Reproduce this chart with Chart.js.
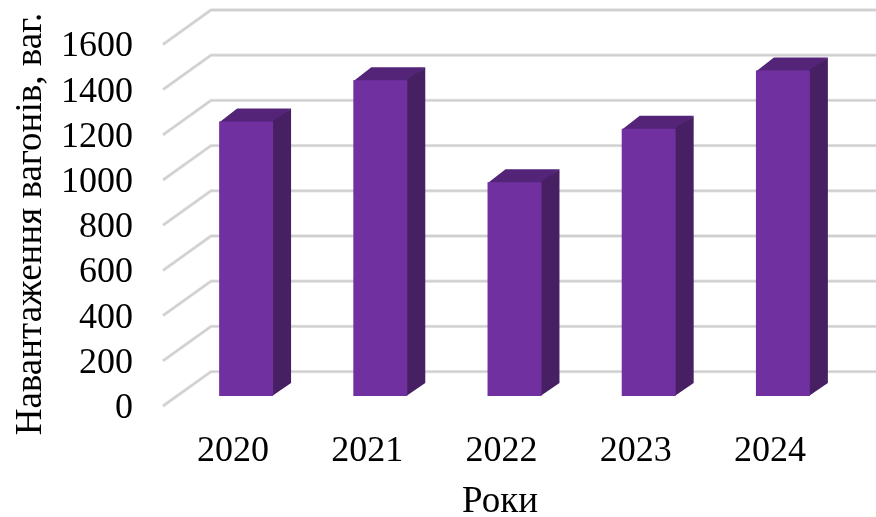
<!DOCTYPE html>
<html><head><meta charset="utf-8">
<style>html,body{margin:0;padding:0;background:#fff}canvas{display:block}</style>
<script src="https://cdn.jsdelivr.net/npm/chart.js@4"></script>
</head><body><canvas id="c" width="876" height="517"></canvas>
<script>
const categories = ["2020","2021","2022","2023","2024"];
const values = [1215,1397,946,1182,1440];
const yTicks = [0,200,400,600,800,1000,1200,1400,1600];
const yTitle = "Навантаження вагонів, ваг.";
const xTitle = "Роки";
const seriesName = "Навантаження вагонів";

const FONT = "'Liberation Serif'";
const depth = {bx:18, by:13, gx:48, gFront:10, gBack:24.4};

const wall = {
  id:'wall',
  beforeDatasetsDraw(chart){
    const {ctx, chartArea:a, scales:{y}} = chart;
    ctx.save();
    ctx.lineJoin='miter';
    const paths = [['#E6E6E6',3.4],['#CFCFCF',1.8]];
    y.ticks.forEach(t=>{
      const p = y.getPixelForValue(t.value);
      paths.forEach(([c,w])=>{
        ctx.strokeStyle=c; ctx.lineWidth=w;
        ctx.beginPath();
        ctx.moveTo(a.left-16,p+depth.gFront);
        ctx.lineTo(a.left-16+depth.gx,p-depth.gBack);
        ctx.lineTo(876,p-depth.gBack);
        ctx.stroke();
      });
    });
    const meta = chart.getDatasetMeta(0);
    meta.data.forEach(b=>{
      const l=b.x-b.width/2, r=b.x+b.width/2, t=b.y, bt=b.base;
      ctx.fillStyle='#542478';
      ctx.beginPath();ctx.moveTo(l,t+1);ctx.lineTo(l+depth.bx,t-depth.by);ctx.lineTo(r+depth.bx,t-depth.by);ctx.lineTo(r,t+1);ctx.closePath();ctx.fill();
      ctx.fillStyle='#472063';
      ctx.beginPath();ctx.moveTo(r-1,t);ctx.lineTo(r+depth.bx,t-depth.by);ctx.lineTo(r+depth.bx,bt-depth.by);ctx.lineTo(r-1,bt);ctx.closePath();ctx.fill();
    });
    ctx.restore();
  },
  afterDraw(chart){
    const {ctx}=chart;
    ctx.save();
    ctx.fillStyle='#000';
    ctx.font='37px '+FONT;
    ctx.textAlign='center';ctx.textBaseline='middle';
    ctx.fillText(xTitle,500,502);
    ctx.translate(31,224);ctx.rotate(-Math.PI/2);
    ctx.fillText(yTitle,0,0);
    ctx.restore();
  }
};

new Chart(document.getElementById('c'),{
  type:'bar',
  data:{labels:categories,datasets:[{label:seriesName,data:values,backgroundColor:'#7030A0',borderWidth:0,barPercentage:0.402,categoryPercentage:1}]},
  plugins:[wall],
  options:{
    responsive:false,animation:false,devicePixelRatio:1,
    layout:{padding:{left:0,right:26,top:34.4,bottom:0}},
    plugins:{legend:{display:false},tooltip:{enabled:false},title:{display:false}},
    scales:{
      x:{
        grid:{display:false},border:{display:false},
        afterFit(s){s.height=121;},
        ticks:{color:'#000',font:{family:FONT,size:36},padding:26,labelOffset:-13,maxRotation:0,autoSkip:false}
      },
      y:{
        min:0,max:1600,
        afterBuildTicks(s){s.ticks=yTicks.map(v=>({value:v}));},
        grid:{display:false},border:{display:false},
        afterFit(s){s.width=179;s.paddingTop=0;s.paddingBottom=0;},
        ticks:{color:'#000',font:{family:FONT,size:36},padding:38,labelOffset:12.5,autoSkip:false,callback:v=>String(v)}
      }
    }
  }
});
</script></body></html>
